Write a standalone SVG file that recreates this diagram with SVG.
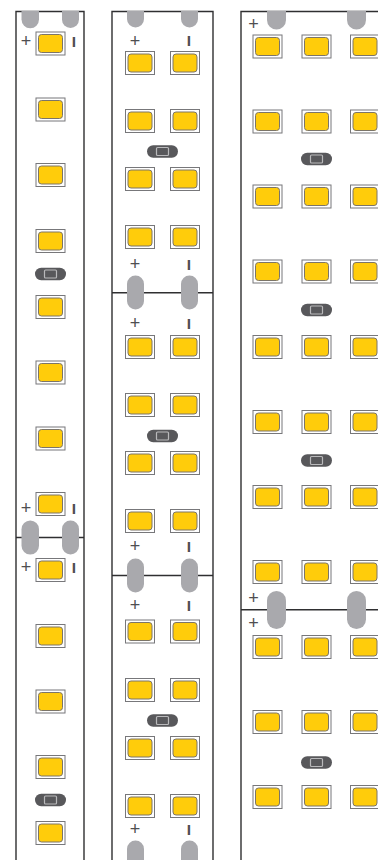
<svg xmlns="http://www.w3.org/2000/svg" width="378" height="860" viewBox="0 0 378 860">
<style>
.b{fill:none;stroke:#2f2f31;stroke-width:1.4}
.j{fill:none;stroke:#2f2f31;stroke-width:1.6}
.o{fill:#fff;stroke:#77777a;stroke-width:1}
.i{fill:#ffcc0b;stroke:#7c7568;stroke-width:1}
.p{fill:#a9a9ad}
.d{fill:#58585b}
.w{fill:none;stroke:#b9b9bb;stroke-width:1.2}
.m{fill:#4d4d4f;font-family:"Liberation Sans",Arial,sans-serif;text-anchor:middle;opacity:.99}
.pl{font-size:18px}
.mi{font-size:15.5px;font-weight:700}
</style>
<defs>
<g id="led"><rect class="o" x="-14.5" y="-11.5" width="29" height="23"/><rect class="i" x="-12" y="-9" width="24" height="18" rx="3"/></g>
<g id="chip"><rect class="d" x="-15.5" y="-6.2" width="31" height="12.4" rx="6.2"/><rect class="w" x="-6" y="-4" width="12" height="8" rx="1"/></g>
</defs>
<g id="strip1">
<path class="b" d="M16 860V11.5H84V860"/>
<path class="j" d="M16 537.5H84"/>
<g class="pads">
<path class="p" d="M21.5 11H39V19.5a8.75 8.75 0 0 1-17.5 0Z"/>
<path class="p" d="M62 11H79V19.5a8.5 8.5 0 0 1-17 0Z"/>
<rect class="p" x="21.5" y="520.5" width="17.5" height="34" rx="8.75"/>
<rect class="p" x="62" y="520.5" width="17" height="34" rx="8.5"/>
</g>
<g class="leds">
<use href="#led" x="50.5" y="43.5"/><use href="#led" x="50.5" y="109.5"/><use href="#led" x="50.5" y="175"/><use href="#led" x="50.5" y="241"/><use href="#led" x="50.5" y="307"/><use href="#led" x="50.5" y="372.5"/><use href="#led" x="50.5" y="438.5"/><use href="#led" x="50.5" y="504"/><use href="#led" x="50.5" y="570"/><use href="#led" x="50.5" y="636"/><use href="#led" x="50.5" y="701.5"/><use href="#led" x="50.5" y="767"/><use href="#led" x="50.5" y="833"/>
<use href="#chip" x="50.5" y="274"/><use href="#chip" x="50.5" y="800"/>
</g>
<text class="m pl" x="26" y="47">+</text><text class="m mi" x="74" y="47">I</text>
<text class="m pl" x="26" y="513.5">+</text><text class="m mi" x="74" y="513.5">I</text>
<text class="m pl" x="26" y="573">+</text><text class="m mi" x="74" y="573">I</text>
</g>
<g id="strip2">
<path class="b" d="M112 860V11.5H213V860"/>
<path class="j" d="M112 292.7H213M112 575.5H213"/>
<g class="pads">
<path class="p" d="M127 11H144V19a8.5 8.5 0 0 1-17 0Z"/>
<path class="p" d="M181 11H198V19a8.5 8.5 0 0 1-17 0Z"/>
<rect class="p" x="127" y="275.5" width="17" height="34" rx="8.5"/><rect class="p" x="181" y="275.5" width="17" height="34" rx="8.5"/>
<rect class="p" x="127" y="558.5" width="17" height="34" rx="8.5"/><rect class="p" x="181" y="558.5" width="17" height="34" rx="8.5"/>
<path class="p" d="M127 860V849a8.5 8.5 0 0 1 17 0V860Z"/>
<path class="p" d="M181 860V849a8.5 8.5 0 0 1 17 0V860Z"/>
</g>
<g class="leds">
<use href="#led" x="140" y="63"/><use href="#led" x="185" y="63"/>
<use href="#led" x="140" y="121"/><use href="#led" x="185" y="121"/>
<use href="#led" x="140" y="179"/><use href="#led" x="185" y="179"/>
<use href="#led" x="140" y="237"/><use href="#led" x="185" y="237"/>
<use href="#led" x="140" y="347"/><use href="#led" x="185" y="347"/>
<use href="#led" x="140" y="405"/><use href="#led" x="185" y="405"/>
<use href="#led" x="140" y="463"/><use href="#led" x="185" y="463"/>
<use href="#led" x="140" y="521"/><use href="#led" x="185" y="521"/>
<use href="#led" x="140" y="631.5"/><use href="#led" x="185" y="631.5"/>
<use href="#led" x="140" y="690"/><use href="#led" x="185" y="690"/>
<use href="#led" x="140" y="748"/><use href="#led" x="185" y="748"/>
<use href="#led" x="140" y="806"/><use href="#led" x="185" y="806"/>
<use href="#chip" x="162.5" y="151.5"/><use href="#chip" x="162.5" y="436"/><use href="#chip" x="162.5" y="720.5"/>
</g>
<text class="m pl" x="135" y="47">+</text><text class="m mi" x="189" y="46">I</text>
<text class="m pl" x="135" y="270">+</text><text class="m mi" x="189" y="270">I</text>
<text class="m pl" x="135" y="328.5">+</text><text class="m mi" x="189" y="329">I</text>
<text class="m pl" x="135" y="552">+</text><text class="m mi" x="189" y="552">I</text>
<text class="m pl" x="135" y="611">+</text><text class="m mi" x="189" y="611">I</text>
<text class="m pl" x="135" y="835">+</text><text class="m mi" x="189" y="835">I</text>
</g>
<g id="strip3">
<path class="b" d="M378 11.5H241V860"/>
<path class="j" d="M241 609.7H378"/>
<g class="pads">
<path class="p" d="M267 11H286V20a9.5 9.5 0 0 1-19 0Z"/>
<path class="p" d="M347 11H366V20a9.5 9.5 0 0 1-19 0Z"/>
<rect class="p" x="267" y="591" width="19" height="38" rx="9.5"/><rect class="p" x="347" y="591" width="19" height="38" rx="9.5"/>
</g>
<g class="leds">
<use href="#led" x="267.5" y="46.5"/><use href="#led" x="316.5" y="46.5"/><use href="#led" x="365" y="46.5"/>
<use href="#led" x="267.5" y="121.5"/><use href="#led" x="316.5" y="121.5"/><use href="#led" x="365" y="121.5"/>
<use href="#led" x="267.5" y="196.5"/><use href="#led" x="316.5" y="196.5"/><use href="#led" x="365" y="196.5"/>
<use href="#led" x="267.5" y="271.5"/><use href="#led" x="316.5" y="271.5"/><use href="#led" x="365" y="271.5"/>
<use href="#led" x="267.5" y="347"/><use href="#led" x="316.5" y="347"/><use href="#led" x="365" y="347"/>
<use href="#led" x="267.5" y="422"/><use href="#led" x="316.5" y="422"/><use href="#led" x="365" y="422"/>
<use href="#led" x="267.5" y="497"/><use href="#led" x="316.5" y="497"/><use href="#led" x="365" y="497"/>
<use href="#led" x="267.5" y="572"/><use href="#led" x="316.5" y="572"/><use href="#led" x="365" y="572"/>
<use href="#led" x="267.5" y="647"/><use href="#led" x="316.5" y="647"/><use href="#led" x="365" y="647"/>
<use href="#led" x="267.5" y="722"/><use href="#led" x="316.5" y="722"/><use href="#led" x="365" y="722"/>
<use href="#led" x="267.5" y="797"/><use href="#led" x="316.5" y="797"/><use href="#led" x="365" y="797"/>
<use href="#chip" x="316.5" y="159"/><use href="#chip" x="316.5" y="310"/><use href="#chip" x="316.5" y="460.5"/><use href="#chip" x="316.5" y="762.5"/>
</g>
<text class="m pl" x="253.5" y="29.5">+</text>
<text class="m pl" x="253.5" y="603.7">+</text>
<text class="m pl" x="253.5" y="628.7">+</text>
</g>
</svg>
